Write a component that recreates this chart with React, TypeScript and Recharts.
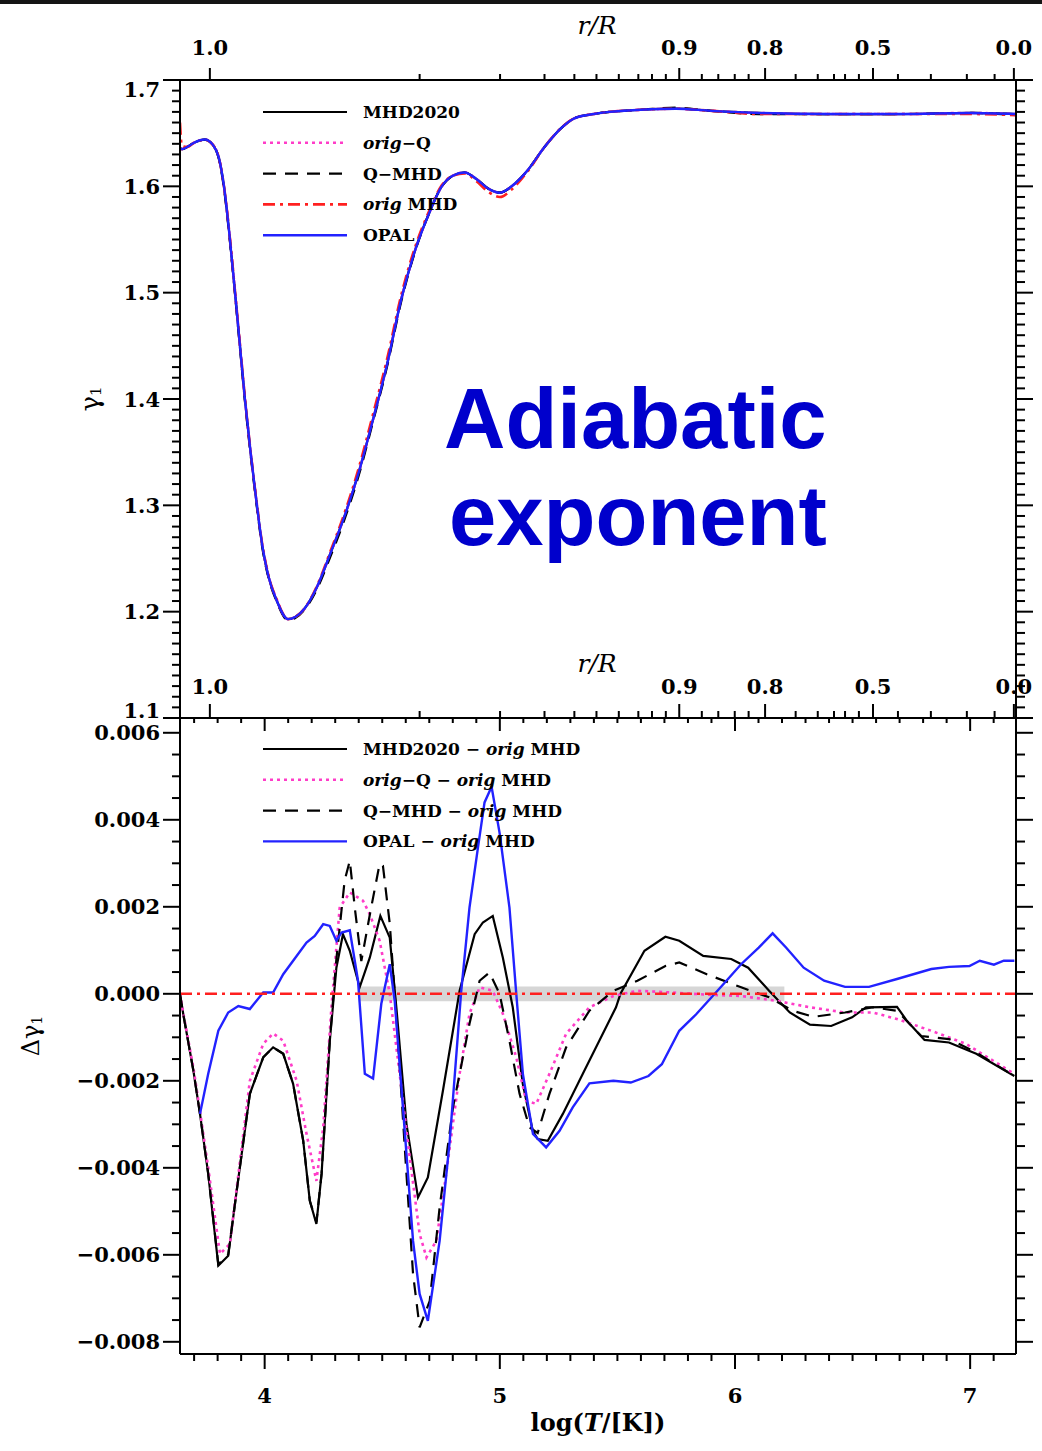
import React from 'react';
import { LineChart, Line, XAxis, YAxis, ReferenceLine, ReferenceArea, Legend } from 'recharts';

const SERIF = "'DejaVu Serif', 'Liberation Serif', serif";
const SANS = "'Liberation Sans', Arial, sans-serif";

// ---------- γ1 against log T (upper panel) ----------
const gammaLogT = [3.640, 3.648, 3.670, 3.700, 3.745, 3.780, 3.805, 3.827, 3.850, 3.874, 3.895, 3.916, 3.940, 3.967, 3.990, 4.014, 4.052, 4.099, 4.130, 4.170, 4.220, 4.280, 4.340, 4.400, 4.460, 4.520, 4.580, 4.640, 4.700, 4.753, 4.800, 4.850, 4.900, 4.950, 5.000, 5.050, 5.118, 5.190, 5.262, 5.317, 5.400, 5.466, 5.600, 5.750, 5.900, 6.100, 6.400, 6.700, 7.000, 7.195];
const gammaMHD2020 = [1.636, 1.635, 1.637, 1.641, 1.644, 1.639, 1.627, 1.600, 1.555, 1.500, 1.450, 1.400, 1.350, 1.300, 1.262, 1.235, 1.210, 1.193, 1.195, 1.203, 1.222, 1.255, 1.290, 1.331, 1.380, 1.432, 1.493, 1.540, 1.575, 1.600, 1.610, 1.613, 1.607, 1.598, 1.594, 1.600, 1.615, 1.637, 1.655, 1.664, 1.668, 1.670, 1.672, 1.673, 1.671, 1.669, 1.668, 1.668, 1.669, 1.668];
const gammaOrigQ = [1.636, 1.635, 1.637, 1.641, 1.644, 1.639, 1.627, 1.600, 1.556, 1.501, 1.451, 1.401, 1.351, 1.301, 1.263, 1.236, 1.211, 1.193, 1.195, 1.203, 1.222, 1.255, 1.290, 1.331, 1.380, 1.432, 1.493, 1.540, 1.575, 1.600, 1.610, 1.613, 1.607, 1.598, 1.594, 1.600, 1.615, 1.637, 1.655, 1.664, 1.668, 1.670, 1.672, 1.673, 1.671, 1.669, 1.668, 1.668, 1.669, 1.668];
const gammaQMHD = [1.636, 1.635, 1.637, 1.641, 1.644, 1.639, 1.626, 1.598, 1.553, 1.498, 1.448, 1.398, 1.348, 1.298, 1.260, 1.234, 1.209, 1.192, 1.194, 1.202, 1.220, 1.252, 1.287, 1.328, 1.378, 1.430, 1.491, 1.539, 1.575, 1.600, 1.610, 1.613, 1.607, 1.598, 1.594, 1.600, 1.615, 1.637, 1.655, 1.664, 1.668, 1.670, 1.672, 1.674, 1.671, 1.668, 1.668, 1.668, 1.669, 1.667];
const gammaOrigMHD = [1.660, 1.638, 1.637, 1.641, 1.644, 1.639, 1.627, 1.600, 1.556, 1.501, 1.451, 1.401, 1.351, 1.301, 1.263, 1.236, 1.211, 1.193, 1.195, 1.203, 1.223, 1.257, 1.293, 1.335, 1.385, 1.437, 1.497, 1.543, 1.577, 1.601, 1.610, 1.612, 1.605, 1.595, 1.590, 1.597, 1.614, 1.637, 1.655, 1.664, 1.668, 1.670, 1.672, 1.673, 1.671, 1.668, 1.668, 1.668, 1.668, 1.667];
const gammaOPAL = [1.636, 1.635, 1.637, 1.641, 1.644, 1.639, 1.627, 1.600, 1.555, 1.500, 1.450, 1.400, 1.350, 1.300, 1.262, 1.235, 1.210, 1.193, 1.195, 1.203, 1.222, 1.255, 1.290, 1.331, 1.380, 1.432, 1.493, 1.540, 1.575, 1.600, 1.610, 1.613, 1.607, 1.598, 1.594, 1.600, 1.615, 1.637, 1.655, 1.664, 1.668, 1.670, 1.672, 1.673, 1.671, 1.669, 1.668, 1.668, 1.669, 1.668];

// ---------- Δγ1 relative to orig MHD (lower panel): [log T, Δγ1] ----------
const diffMHD2020: [number, number][] = [
  [3.640, 0], [3.654, -0.00047], [3.697, -0.00177], [3.725, -0.00276], [3.760, -0.00414], [3.803, -0.00625], [3.845, -0.00602], [3.881, -0.00453], [3.937, -0.0023], [3.994, -0.00146], [4.036, -0.00123], [4.079, -0.00138], [4.121, -0.00207], [4.164, -0.00338], [4.192, -0.00476], [4.220, -0.00529], [4.242, -0.00414], [4.277, -0.00108], [4.305, 0.0006], [4.333, 0.00137], [4.362, 0.00099], [4.404, 0.00015], [4.447, 0.00083], [4.492, 0.00179], [4.532, 0.00129], [4.560, -0.00031], [4.603, -0.00299], [4.652, -0.00468], [4.694, -0.00422], [4.758, -0.00223], [4.829, 0.00007], [4.893, 0.00137], [4.928, 0.00164], [4.970, 0.00179], [5.013, 0.00083], [5.055, -0.00031], [5.098, -0.00208], [5.140, -0.00315], [5.161, -0.00334], [5.204, -0.00338], [5.268, -0.00276], [5.353, -0.00184], [5.494, -0.00031], [5.513, 0], [5.615, 0.00099], [5.704, 0.00131], [5.763, 0.00122], [5.865, 0.00087], [5.984, 0.0008], [6.056, 0.0006], [6.145, 0.00007], [6.233, -0.00043], [6.319, -0.00071], [6.409, -0.00074], [6.498, -0.00054], [6.557, -0.00031], [6.689, -0.0003], [6.731, -0.00062], [6.806, -0.00106], [6.910, -0.00112], [7.026, -0.00138], [7.188, -0.00189],
];
const diffOrigQ: [number, number][] = [
  [3.640, 0], [3.654, -0.00045], [3.697, -0.0017], [3.725, -0.0027], [3.760, -0.0040], [3.810, -0.00598], [3.852, -0.00575], [3.937, -0.0020], [3.994, -0.00115], [4.036, -0.00091], [4.079, -0.00108], [4.136, -0.0020], [4.178, -0.00322], [4.220, -0.0043], [4.249, -0.00307], [4.284, -0.00031], [4.319, 0.00198], [4.362, 0.00233], [4.418, 0.00214], [4.447, 0.00183], [4.489, 0.00122], [4.532, 0], [4.574, -0.00184], [4.617, -0.00376], [4.659, -0.00552], [4.688, -0.00606], [4.730, -0.00568], [4.772, -0.00414], [4.829, -0.00184], [4.871, -0.00046], [4.914, 0.00015], [4.970, 0.00007], [5.013, -0.00046], [5.070, -0.00146], [5.112, -0.00246], [5.155, -0.00253], [5.211, -0.00184], [5.282, -0.00092], [5.381, -0.00031], [5.483, -0.00005], [5.585, 0.00007], [5.733, 0.00003], [5.880, -0.00002], [6.026, -0.00005], [6.175, -0.00016], [6.319, -0.00031], [6.468, -0.00043], [6.586, -0.00043], [6.689, -0.00058], [6.835, -0.00085], [6.982, -0.00115], [7.188, -0.00184],
];
const diffQMHD: [number, number][] = [
  [3.640, 0], [3.654, -0.00047], [3.697, -0.00177], [3.725, -0.00276], [3.760, -0.00414], [3.803, -0.00622], [3.845, -0.0060], [3.881, -0.00453], [3.937, -0.0023], [3.994, -0.00146], [4.036, -0.00123], [4.079, -0.00138], [4.121, -0.00207], [4.164, -0.00338], [4.192, -0.00476], [4.220, -0.00525], [4.242, -0.00414], [4.277, -0.00108], [4.305, 0.0008], [4.340, 0.0026], [4.362, 0.00306], [4.385, 0.0019], [4.411, 0.00075], [4.450, 0.0019], [4.489, 0.00299], [4.503, 0.00294], [4.532, 0.00161], [4.567, -0.00108], [4.603, -0.00414], [4.631, -0.00644], [4.659, -0.00767], [4.702, -0.00706], [4.744, -0.00491], [4.801, -0.00261], [4.871, -0.00069], [4.914, 0.0003], [4.956, 0.00049], [4.999, 0], [5.041, -0.00108], [5.084, -0.0023], [5.126, -0.00307], [5.161, -0.0032], [5.211, -0.0023], [5.282, -0.00123], [5.381, -0.00039], [5.483, 0.00007], [5.585, 0.0003], [5.704, 0.00064], [5.763, 0.00072], [5.880, 0.00045], [6.026, 0.00015], [6.145, -0.00008], [6.245, -0.00039], [6.334, -0.00053], [6.468, -0.00043], [6.586, -0.00031], [6.689, -0.00039], [6.792, -0.00097], [6.910, -0.00104], [7.026, -0.00135], [7.188, -0.00189],
];
const diffOPAL: [number, number][] = [
  [3.725, -0.00276], [3.760, -0.00184], [3.803, -0.00085], [3.845, -0.00043], [3.888, -0.00028], [3.937, -0.00035], [3.994, 0.00003], [4.036, 0.00003], [4.079, 0.00045], [4.136, 0.00087], [4.178, 0.00118], [4.213, 0.00133], [4.249, 0.0016], [4.277, 0.00156], [4.305, 0.00122], [4.327, 0.00141], [4.362, 0.00146], [4.397, 0.0003], [4.426, -0.00184], [4.461, -0.00195], [4.496, -0.00023], [4.532, 0.00068], [4.553, -0.00016], [4.588, -0.00261], [4.631, -0.00568], [4.659, -0.0069], [4.694, -0.00752], [4.744, -0.00568], [4.787, -0.00338], [4.836, 0.00007], [4.871, 0.00198], [4.907, 0.00336], [4.935, 0.0044], [4.965, 0.00476], [4.999, 0.0037], [5.041, 0.00198], [5.070, 0], [5.098, -0.00184], [5.141, -0.00322], [5.197, -0.00353], [5.254, -0.00315], [5.310, -0.00261], [5.381, -0.00206], [5.483, -0.0020], [5.557, -0.00204], [5.632, -0.00189], [5.689, -0.00162], [5.763, -0.00085], [5.835, -0.00047], [5.939, 0.00015], [6.026, 0.00068], [6.101, 0.00106], [6.160, 0.00139], [6.218, 0.00106], [6.292, 0.0006], [6.379, 0.0003], [6.468, 0.00016], [6.570, 0.00016], [6.689, 0.00034], [6.835, 0.00057], [6.910, 0.00062], [6.997, 0.00064], [7.041, 0.00076], [7.101, 0.00067], [7.143, 0.00076], [7.188, 0.00076],
];

// shaded uncertainty strip around zero in the lower panel
const zeroBand = { x1: 4.40, x2: 6.21, y1: -0.00017, y2: 0.00017 };

// ---------- axes ----------
const logTDomain: [number, number] = [3.64, 7.195];
const gammaDomain: [number, number] = [1.1, 1.7];
const deltaDomain: [number, number] = [-0.00828, 0.00634];

const logTTicks = Array.from({ length: 35 }, (_, i) => Math.round((3.7 + i * 0.1) * 10) / 10);
const gammaTicks = Array.from({ length: 61 }, (_, i) => Math.round((1.1 + i * 0.01) * 100) / 100);
const deltaTicks = Array.from({ length: 29 }, (_, i) => Math.round((-0.008 + i * 0.0005) * 1e4) / 1e4);

// fractional radius r/R marked along the log T axis
const radiusMajorLogT = [3.767, 5.763, 6.128, 6.587, 7.186];
const radiusMajorLabels = ['1.0', '0.9', '0.8', '0.5', '0.0'];
const radiusMinorLogT = [4.659, 5.001, 5.190, 5.317, 5.411, 5.506, 5.589, 5.647, 5.706, 5.859, 5.929, 5.999, 6.058, 6.258, 6.352, 6.421, 6.468, 6.527, 6.693, 6.833, 6.986, 7.104];
const radiusTicks = [...radiusMajorLogT, ...radiusMinorLogT].sort((a, b) => a - b);

// ---------- series styles & legends ----------
type SeriesKey = 'mhd2020' | 'origQ' | 'qmhd' | 'origMhd' | 'opal';
const seriesStyle: Record<SeriesKey, { stroke: string; width: number; dash?: string }> = {
  mhd2020: { stroke: '#000000', width: 2.2 },
  origQ: { stroke: '#ff3cc8', width: 2.6, dash: '3 4' },
  qmhd: { stroke: '#000000', width: 2.2, dash: '13 9' },
  origMhd: { stroke: '#ff2020', width: 2.6, dash: '12 5 3 5' },
  opal: { stroke: '#2222ff', width: 2.4 },
};

type Part = { text: string; italic?: boolean };
type LegendRow = { key: SeriesKey; parts: Part[] };

const gammaLegend: LegendRow[] = [
  { key: 'mhd2020', parts: [{ text: 'MHD2020' }] },
  { key: 'origQ', parts: [{ text: 'orig', italic: true }, { text: '\u2212Q' }] },
  { key: 'qmhd', parts: [{ text: 'Q\u2212MHD' }] },
  { key: 'origMhd', parts: [{ text: 'orig', italic: true }, { text: ' MHD' }] },
  { key: 'opal', parts: [{ text: 'OPAL' }] },
];
const deltaLegend: LegendRow[] = [
  { key: 'mhd2020', parts: [{ text: 'MHD2020 \u2212 ' }, { text: 'orig', italic: true }, { text: ' MHD' }] },
  { key: 'origQ', parts: [{ text: 'orig', italic: true }, { text: '\u2212Q \u2212 ' }, { text: 'orig', italic: true }, { text: ' MHD' }] },
  { key: 'qmhd', parts: [{ text: 'Q\u2212MHD \u2212 ' }, { text: 'orig', italic: true }, { text: ' MHD' }] },
  { key: 'opal', parts: [{ text: 'OPAL \u2212 ' }, { text: 'orig', italic: true }, { text: ' MHD' }] },
];

// ---------- data tables ----------
const gammaRows = gammaLogT.map((t, i) => ({
  t,
  mhd2020: gammaMHD2020[i],
  origQ: gammaOrigQ[i],
  qmhd: gammaQMHD[i],
  origMhd: gammaOrigMHD[i],
  opal: gammaOPAL[i],
}));

function mergeSeries(series: Record<string, [number, number][]>) {
  const rows = new Map<number, Record<string, number>>();
  for (const [key, pts] of Object.entries(series)) {
    for (const [t, v] of pts) {
      const row = rows.get(t) ?? { t };
      row[key] = v;
      rows.set(t, row);
    }
  }
  return [...rows.values()].sort((a, b) => a.t - b.t);
}
const deltaRows = mergeSeries({ mhd2020: diffMHD2020, origQ: diffOrigQ, qmhd: diffQMHD, opal: diffOPAL });

// ---------- layout ----------
const W = 1042;
const TOP_H = 745;
const LOWER_TOP = 640;
const LOWER_H = 1451 - LOWER_TOP;

// ---------- tick renderers ----------
const isInt = (v: number) => Math.abs(v - Math.round(v)) < 1e-6;
const isGammaMajor = (v: number) => Math.abs(v * 10 - Math.round(v * 10)) < 1e-6;
const isDeltaMajor = (v: number) => Math.abs(v / 0.002 - Math.round(v / 0.002)) < 1e-6;
const fmtDelta = (v: number) => (Math.abs(v) < 1e-9 ? '0.000' : v < 0 ? '\u2212' + Math.abs(v).toFixed(3) : v.toFixed(3));
const radiusLabel = (v: number) => {
  const i = radiusMajorLogT.indexOf(v);
  return i >= 0 ? radiusMajorLabels[i] : null;
};

const tickText = { fontFamily: SERIF, fontWeight: 700, fontSize: 21, fill: '#000' } as const;

function xTick(dir: 1 | -1, majorLen: number, minorLen: number, isMajor: (v: number) => boolean, label: ((v: number) => string | null) | null, gap: number) {
  return (props: any) => {
    const { x, y, payload } = props;
    const v = payload.value as number;
    const len = isMajor(v) ? majorLen : minorLen;
    const text = label ? label(v) : null;
    return (
      <g>
        <line x1={x} x2={x} y1={y} y2={y + dir * len} stroke="#000" strokeWidth={2} />
        {text && (
          <text x={x} y={y + dir * gap} textAnchor="middle" dominantBaseline="central" {...tickText}>
            {text}
          </text>
        )}
      </g>
    );
  };
}

function yTick(dir: 1 | -1, majorLen: number, minorLen: number, isMajor: (v: number) => boolean, label: ((v: number) => string | null) | null, shift?: (v: number) => number) {
  return (props: any) => {
    const { x, y, payload } = props;
    const v = payload.value as number;
    const major = isMajor(v);
    const len = major ? majorLen : minorLen;
    const text = label && major ? label(v) : null;
    return (
      <g>
        <line x1={x} x2={x + dir * len} y1={y} y2={y} stroke="#000" strokeWidth={2} />
        {text && (
          <text x={x + dir * (majorLen + 3)} y={y + (shift ? shift(v) : 0)} textAnchor="end" dominantBaseline="central" {...tickText}>
            {text}
          </text>
        )}
      </g>
    );
  };
}

function LegendBox({ rows }: { rows: LegendRow[] }) {
  return (
    <svg width={420} height={rows.length * 31 + 10} style={{ display: 'block', overflow: 'visible' }}>
      {rows.map((row, i) => {
        const y = 14 + i * 30.8;
        const s = seriesStyle[row.key];
        return (
          <g key={row.key}>
            <line x1={8} x2={92} y1={y} y2={y} stroke={s.stroke} strokeWidth={s.width} strokeDasharray={s.dash} />
            <text x={108} y={y} dominantBaseline="central" fontFamily={SERIF} fontWeight={700} fontSize={17} style={{ whiteSpace: 'pre' }}>
              {row.parts.map((p, j) => (
                <tspan key={j} fontStyle={p.italic ? 'italic' : 'normal'}>{p.text}</tspan>
              ))}
            </text>
          </g>
        );
      })}
    </svg>
  );
}

const RadiusTitle = ({ cy }: { cy: number }) => (
  <text x={597} y={cy} textAnchor="middle" dominantBaseline="central" fontFamily={SERIF} fontStyle="italic" fontSize={25}>
    r/R
  </text>
);
const GammaTitle = () => (
  <text transform="translate(90,399) rotate(-90)" textAnchor="middle" dominantBaseline="central" fontFamily={SERIF} fontSize={26}>
    γ<tspan fontSize={15} dy={6}>1</tspan>
  </text>
);
const DeltaTitle = () => (
  <text transform={`translate(31,${1036 - LOWER_TOP}) rotate(-90)`} textAnchor="middle" dominantBaseline="central" fontFamily={SERIF} fontSize={24}>
    Δγ<tspan fontSize={14} dy={6}>1</tspan>
  </text>
);
const LogTTitle = () => (
  <text x={598} y={1422 - LOWER_TOP} textAnchor="middle" dominantBaseline="central" fontFamily={SERIF} fontWeight={700} fontSize={24}>
    log(<tspan fontStyle="italic">T</tspan>/[K])
  </text>
);

const axisLine = { stroke: '#000', strokeWidth: 2 };

function seriesLine(key: SeriesKey, curve: 'monotone' | 'linear', xId: string, yId: string) {
  const s = seriesStyle[key];
  return (
    <Line
      key={key}
      xAxisId={xId}
      yAxisId={yId}
      dataKey={key}
      type={curve}
      stroke={s.stroke}
      strokeWidth={s.width}
      strokeDasharray={s.dash}
      dot={false}
      activeDot={false}
      connectNulls
      isAnimationActive={false}
    />
  );
}

export default function App() {
  return (
    <div style={{ position: 'absolute', left: 0, top: 0, width: W, height: 1451, background: '#fff', overflow: 'hidden' }}>
      <div style={{ position: 'absolute', left: 0, top: 0, width: W, height: 4, background: '#151515' }} />

      {/* lower panel: Δγ1 */}
      <div style={{ position: 'absolute', left: 0, top: LOWER_TOP }}>
        <LineChart width={W} height={LOWER_H} data={deltaRows} margin={{ top: 0, right: 0, bottom: 0, left: 0 }}>
          <XAxis
            xAxisId="t" dataKey="t" type="number" orientation="bottom" height={97}
            domain={logTDomain} allowDataOverflow ticks={logTTicks} interval={0}
            tickSize={0} tickMargin={0} tickLine={false} axisLine={axisLine}
            tick={xTick(1, 15, 7, isInt, (v) => (isInt(v) ? String(v) : null), 41)}
            label={<LogTTitle />}
          />
          <XAxis
            xAxisId="r" dataKey="t" type="number" orientation="top" height={78}
            domain={logTDomain} allowDataOverflow ticks={radiusTicks} interval={0}
            tickSize={0} tickMargin={0} tickLine={false} axisLine={axisLine}
            tick={xTick(-1, 14, 7, (v) => radiusMajorLogT.includes(v), radiusLabel, 32)}
            label={<RadiusTitle cy={663 - LOWER_TOP} />}
          />
          <YAxis
            yAxisId="d" type="number" orientation="left" width={180}
            domain={deltaDomain} allowDataOverflow ticks={deltaTicks} interval={0}
            tickSize={0} tickMargin={0} tickLine={false} axisLine={axisLine}
            tick={yTick(-1, 17, 8, isDeltaMajor, fmtDelta)}
            label={<DeltaTitle />}
          />
          <YAxis
            yAxisId="dr" type="number" orientation="right" width={26}
            domain={deltaDomain} allowDataOverflow ticks={deltaTicks} interval={0}
            tickSize={0} tickMargin={0} tickLine={false} axisLine={axisLine}
            tick={yTick(1, 17, 9, isDeltaMajor, null)}
          />
          <ReferenceArea xAxisId="t" yAxisId="d" x1={zeroBand.x1} x2={zeroBand.x2} y1={zeroBand.y1} y2={zeroBand.y2} fill="#d6d6d6" fillOpacity={1} stroke="none" />
          {seriesLine('mhd2020', 'linear', 't', 'd')}
          {seriesLine('origQ', 'linear', 't', 'd')}
          {seriesLine('qmhd', 'linear', 't', 'd')}
          {seriesLine('opal', 'linear', 't', 'd')}
          <ReferenceLine xAxisId="t" yAxisId="d" y={0} stroke={seriesStyle.origMhd.stroke} strokeWidth={2.5} strokeDasharray="12 5 3 5" />
          <Legend
            layout="vertical" align="center" verticalAlign="middle"
            wrapperStyle={{ left: 255, top: 735 - LOWER_TOP, width: 420, height: 135 }}
            content={() => <LegendBox rows={deltaLegend} />}
          />
        </LineChart>
      </div>

      {/* upper panel: γ1 */}
      <div style={{ position: 'absolute', left: 0, top: 0 }}>
        <LineChart width={W} height={TOP_H} data={gammaRows} margin={{ top: 0, right: 0, bottom: 0, left: 0 }}>
          <XAxis
            xAxisId="t" dataKey="t" type="number" orientation="bottom" height={TOP_H - 718}
            domain={logTDomain} allowDataOverflow ticks={logTTicks} interval={0}
            tickSize={0} tickMargin={0} tickLine={false} axisLine={axisLine}
            tick={xTick(1, 13, 5, isInt, null, 0)}
          />
          <XAxis
            xAxisId="r" dataKey="t" type="number" orientation="top" height={80}
            domain={logTDomain} allowDataOverflow ticks={radiusTicks} interval={0}
            tickSize={0} tickMargin={0} tickLine={false} axisLine={axisLine}
            tick={xTick(-1, 12, 6, (v) => radiusMajorLogT.includes(v), radiusLabel, 33)}
            label={<RadiusTitle cy={25} />}
          />
          <YAxis
            yAxisId="g" type="number" orientation="left" width={180}
            domain={gammaDomain} allowDataOverflow ticks={gammaTicks} interval={0}
            tickSize={0} tickMargin={0} tickLine={false} axisLine={axisLine}
            tick={yTick(-1, 17, 8, isGammaMajor, (v) => v.toFixed(1), (v) => (v >= 1.7 ? 9 : v <= 1.1 ? -8 : 0))}
            label={<GammaTitle />}
          />
          <YAxis
            yAxisId="gr" type="number" orientation="right" width={26}
            domain={gammaDomain} allowDataOverflow ticks={gammaTicks} interval={0}
            tickSize={0} tickMargin={0} tickLine={false} axisLine={axisLine}
            tick={yTick(1, 17, 9, isGammaMajor, null)}
          />
          {seriesLine('mhd2020', 'monotone', 't', 'g')}
          {seriesLine('origQ', 'monotone', 't', 'g')}
          {seriesLine('qmhd', 'monotone', 't', 'g')}
          {seriesLine('origMhd', 'monotone', 't', 'g')}
          {seriesLine('opal', 'monotone', 't', 'g')}
          <Legend
            layout="vertical" align="center" verticalAlign="middle"
            wrapperStyle={{ left: 255, top: 98, width: 420, height: 160 }}
            content={() => <LegendBox rows={gammaLegend} />}
          />
        </LineChart>
      </div>

      {/* panel caption */}
      <svg width={W} height={TOP_H} style={{ position: 'absolute', left: 0, top: 0, pointerEvents: 'none' }}>
        <text x={444} y={448} fontFamily={SANS} fontWeight={700} fontSize={85} fill="#0000cc">Adiabatic</text>
        <text x={449} y={545} fontFamily={SANS} fontWeight={700} fontSize={85} fill="#0000cc">exponent</text>
      </svg>
    </div>
  );
}
